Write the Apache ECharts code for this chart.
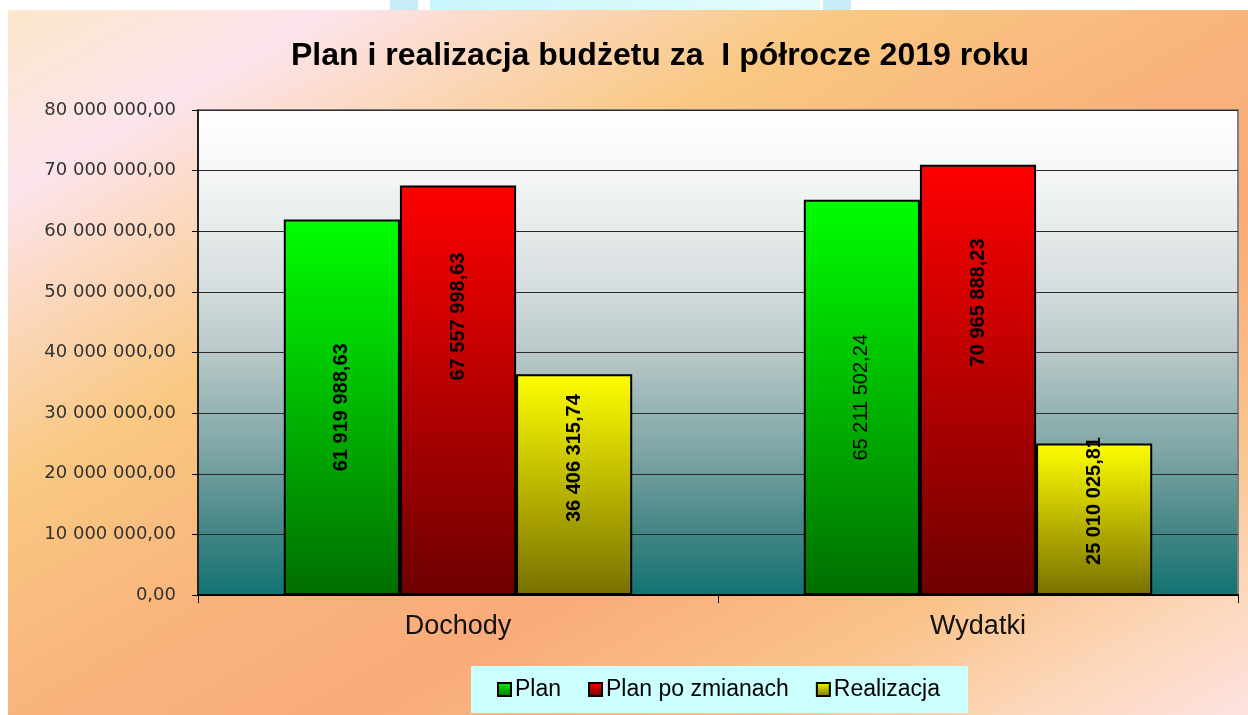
<!DOCTYPE html>
<html>
<head>
<meta charset="utf-8">
<script src="https://cdn.jsdelivr.net/npm/echarts@6/dist/echarts.min.js"></script>
<style>
html,body{margin:0;padding:0;background:#ffffff;}
#chart{width:1248px;height:715px;}
</style>
</head>
<body>
<div id="chart"></div>
<script>
const titleText = 'Plan i realizacja budżetu za  I półrocze 2019 roku';
const categories = ['Dochody', 'Wydatki'];
const seriesNames = ['Plan', 'Plan po zmianach', 'Realizacja'];
const planValues = [61919988.63, 65211502.24];
const planChangedValues = [67557998.63, 70965888.23];
const realizationValues = [36406315.74, 25010025.81];
const yMin = 0, yMax = 80000000, yStep = 10000000;

function fmt(v) {
  const s = Number(v).toFixed(2).split('.');
  return s[0].replace(/\B(?=(\d{3})+(?!\d))/g, ' ') + ',' + s[1];
}
function vgrad(top, bottom) {
  return {type:'linear', x:0, y:0, x2:0, y2:1, colorStops:[{offset:0,color:top},{offset:1,color:bottom}]};
}

const chart = echarts.init(document.getElementById('chart'), null, {renderer:'canvas'});
const labelFont = '"Liberation Sans Narrow","Arial Narrow","Liberation Sans",Arial,sans-serif';

function barSeries(name, values, top, bottom, pos, normalIdx) {
  return {
    name: name,
    type: 'bar',
    barGap: '0%',
    barCategoryGap: '33%',
    itemStyle: {color: vgrad(top, bottom), borderColor: '#000', borderWidth: 2},
    label: {
      show: true, rotate: 90, position: pos, align: 'center', verticalAlign: 'middle',
      formatter: p => fmt(p.value), color: '#000', fontFamily: labelFont,
      fontWeight: 'bold', fontSize: 20
    },
    data: values.map((v, i) => i === normalIdx ? {value: v, label: {fontWeight: 'normal'}} : v)
  };
}

const option = {
  animation: false,
  backgroundColor: '#ffffff',
  graphic: [
    {type:'rect', z:-10, shape:{x:8, y:10, width:1240, height:705}, style:{fill:{type:'linear', x:0, y:0, x2:0.4886, y2:1.511, colorStops:[
      {offset:0, color:'#fbe7cb'}, {offset:0.13, color:'#fce4ec'}, {offset:0.23, color:'#fbd6b8'},
      {offset:0.34, color:'#f9c882'}, {offset:0.5, color:'#f9b47c'}, {offset:0.64, color:'#f9ab7a'},
      {offset:0.8, color:'#fac38c'}, {offset:0.9, color:'#fcd6b8'}, {offset:1, color:'#fde2e0'}]}}},
    {type:'rect', z:-10, shape:{x:390, y:0, width:28, height:10}, style:{fill:'#c8ecf8'}},
    {type:'rect', z:-10, shape:{x:430, y:0, width:390, height:10}, style:{fill:{type:'linear',x:0,y:0,x2:1,y2:0,colorStops:[{offset:0,color:'#c8f6fc'},{offset:1,color:'#e6fcfc'}]}}},
    {type:'rect', z:-10, shape:{x:823, y:0, width:28, height:10}, style:{fill:'#c8ecf8'}}
  ],
  title: {
    text: titleText, left: 286, top: 35,
    textStyle: {fontFamily: '"Liberation Sans",Arial,sans-serif', fontWeight: 'bold', fontSize: 32, color: '#000'}
  },
  legend: {
    data: seriesNames, left: 471, bottom: 2,
    backgroundColor: '#ccffff', padding: [12, 28, 12, 26],
    itemWidth: 13, itemHeight: 13, itemGap: 27, icon: 'rect',
    textStyle: {fontFamily: '"Liberation Sans",Arial,sans-serif', fontSize: 23, color: '#000', padding: [0,0,0,-1]}
  },
  grid: {
    left: 198, right: 10, top: 110, bottom: 120, show: true,
    borderColor: '#808080', borderWidth: 2,
    backgroundColor: {type:'linear', x:0, y:0, x2:0, y2:1, colorStops:[
      {offset:0, color:'#ffffff'}, {offset:0.15, color:'#f3f5f5'}, {offset:0.35, color:'#d8dfe0'},
      {offset:0.5, color:'#b8c8c8'}, {offset:0.7, color:'#80a6a6'}, {offset:0.85, color:'#4a8888'},
      {offset:1, color:'#127272'}]}
  },
  xAxis: {
    type: 'category', data: categories,
    axisLine: {lineStyle: {color: '#000', width: 2}},
    axisTick: {show: true, length: 8, lineStyle: {color: '#000', width: 1}},
    axisLabel: {fontFamily: '"Liberation Sans",Arial,sans-serif', fontSize: 27, color: '#111', margin: 18}
  },
  yAxis: {
    type: 'value', min: yMin, max: yMax, interval: yStep,
    axisLine: {show: true, lineStyle: {color: '#000', width: 1.5}},
    axisTick: {show: true, length: 6, lineStyle: {color: '#000'}},
    axisLabel: {formatter: v => fmt(v), fontFamily: '"DejaVu Sans",Verdana,sans-serif', fontSize: 18, color: '#333', margin: 22},
    splitLine: {show: true, lineStyle: {color: '#2a2a2a', width: 1}}
  },
  series: [
    barSeries(seriesNames[0], planValues, '#00ff00', '#006e00', 'inside', 1),
    barSeries(seriesNames[1], planChangedValues, '#ff0000', '#6e0000', ['50%', '32%'], -1),
    barSeries(seriesNames[2], realizationValues, '#ffff00', '#787000', ['50%', '38%'], -1)
  ]
};
chart.setOption(option);
</script>
</body>
</html>
